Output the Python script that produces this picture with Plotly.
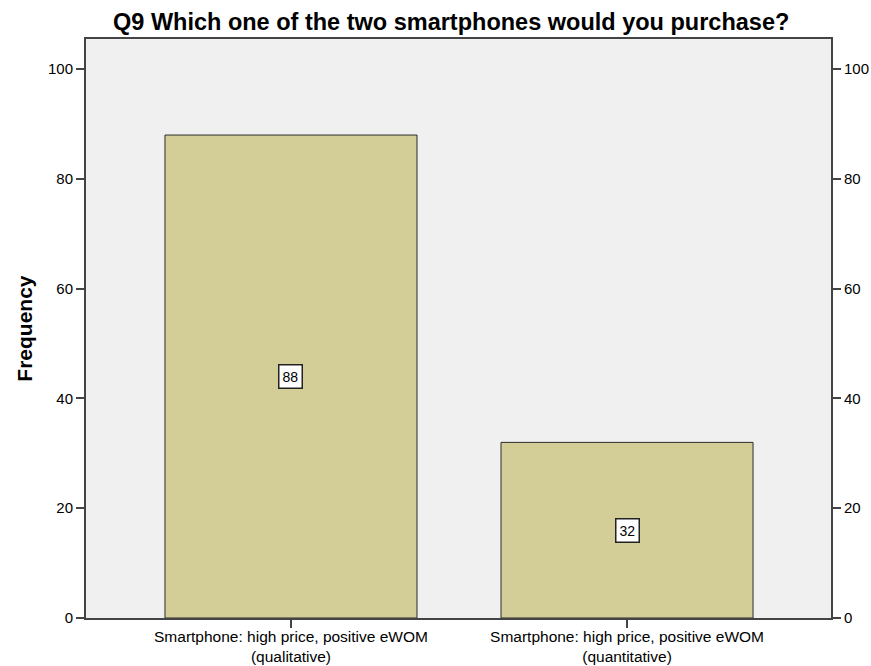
import plotly.graph_objects as go

categories = ["Smartphone: high price, positive eWOM<br>(qualitative)",
              "Smartphone: high price, positive eWOM<br>(quantitative)"]
frequency = [88, 32]
y_ticks = [0, 20, 40, 60, 80, 100]
title = "Q9 Which one of the two smartphones would you purchase?"

FONT = "Liberation Sans, Arial"

fig = go.Figure()
fig.add_trace(go.Bar(
    x=[0, 1], y=frequency, width=0.75,
    marker=dict(color="#D3CE97", line=dict(color="#2b2b2b", width=1)),
    hoverinfo="skip", showlegend=False,
))
# invisible trace to activate right axis
fig.add_trace(go.Bar(
    x=[0, 1], y=frequency, width=0.75, yaxis="y2",
    marker=dict(color="rgba(0,0,0,0)", line=dict(width=0)), hoverinfo="skip", showlegend=False,
))

for i, v in enumerate(frequency):
    fig.add_annotation(
        x=i, y=v / 2, text=str(v), showarrow=False,
        font=dict(family=FONT, size=14, color="#000000"),
        bgcolor="white", bordercolor="#222222", borderwidth=1.5, borderpad=3,
    )

fig.add_annotation(
    xref="paper", yref="paper", x=-0.083, y=0.5, xanchor="center", yanchor="middle",
    text="<b>Frequency</b>", textangle=-90, showarrow=False,
    font=dict(family=FONT, size=21, color="#000000"),
)

axis_font = dict(family=FONT, size=15, color="#000000")
fig.update_layout(
    width=871, height=666,
    paper_bgcolor="white", plot_bgcolor="#F0F0F0",
    margin=dict(l=86, r=40, t=39, b=48, autoexpand=False),
    title=dict(text="<b>" + title + "</b>", x=0.518, xanchor="center", y=0.968, yanchor="middle",
               font=dict(family=FONT, size=23.5, color="#000000")),
    xaxis=dict(
        range=[-0.61, 1.607], tickmode="array", tickvals=[0, 1], ticktext=categories,
        ticks="outside", ticklen=8, tickcolor="#444444", tickwidth=2,
        showgrid=False, zeroline=False, showline=True, linecolor="#444444", linewidth=2,
        mirror=True, tickfont=dict(family=FONT, size=15.5, color="#000000"),
        ticklabelstandoff=-5,
        automargin=False, fixedrange=True,
    ),
    yaxis=dict(
        range=[0, 105.5], tickmode="array", tickvals=y_ticks,
        ticks="outside", ticklen=8, tickcolor="#444444", tickwidth=2,
        showgrid=False, zeroline=False, showline=True, linecolor="#444444", linewidth=2,
        tickfont=axis_font, automargin=False,
    ),
    yaxis2=dict(
        range=[0, 105.5], tickmode="array", tickvals=y_ticks, overlaying="y", side="right",
        ticks="outside", ticklen=8, tickcolor="#444444", tickwidth=2,
        showgrid=False, zeroline=False, showline=True, linecolor="#444444", linewidth=2,
        tickfont=axis_font, automargin=False,
    ),
)

fig.write_html("out.html",
               config={"displayModeBar": False},
               post_script="document.body.style.margin='0';document.body.style.overflow='hidden';")
